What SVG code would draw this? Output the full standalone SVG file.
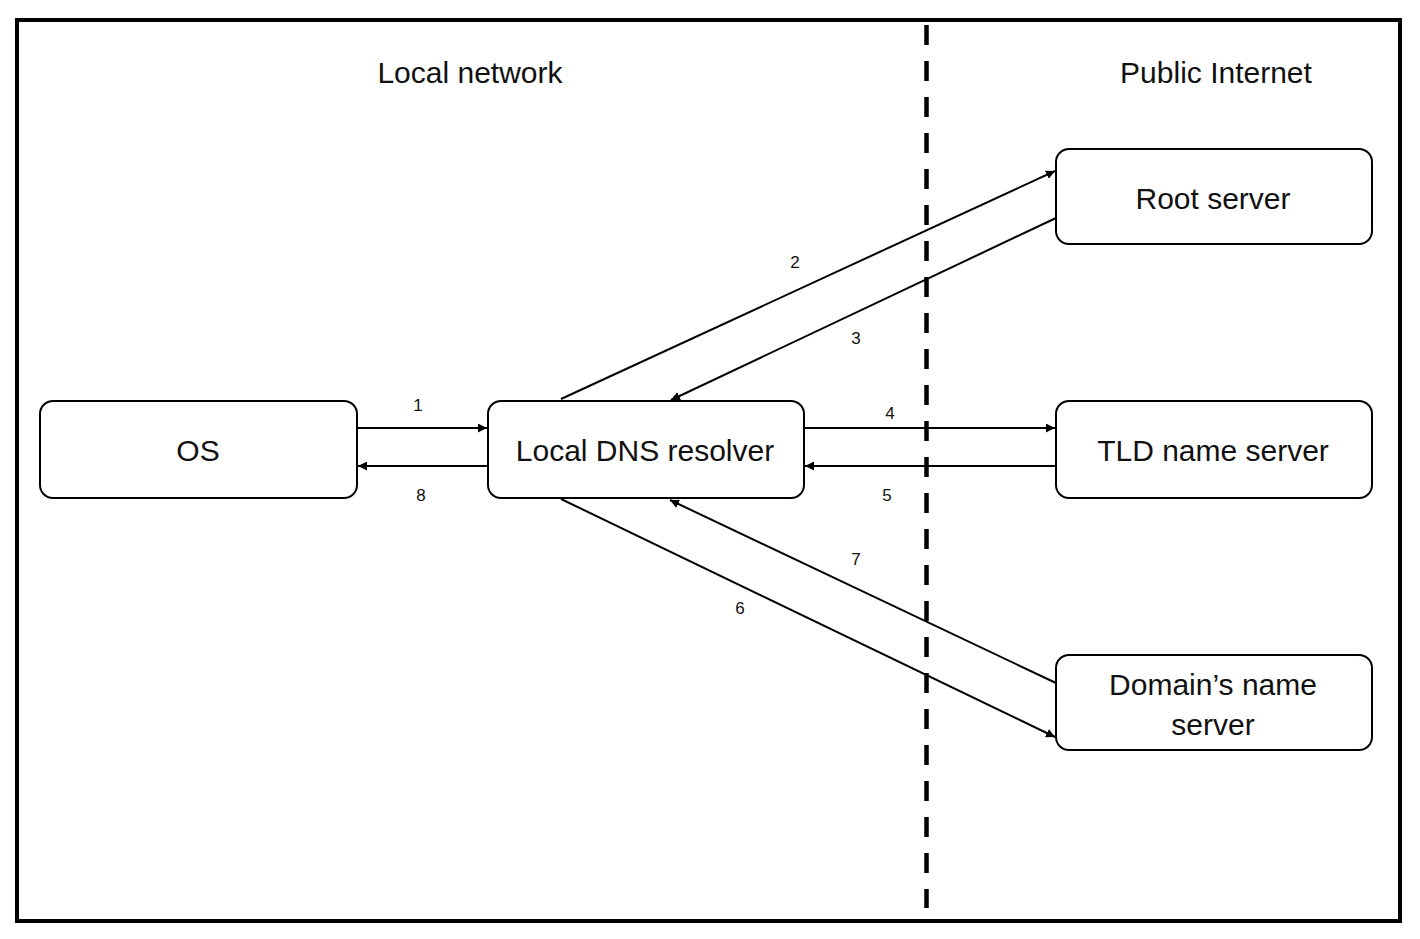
<svg xmlns="http://www.w3.org/2000/svg" width="1420" height="939" viewBox="0 0 1420 939">
<style>
.node rect{fill:#fff;stroke:#000;stroke-width:2}
.lbl{font-family:"Liberation Sans",Arial,sans-serif;font-size:30px;fill:#111;text-anchor:middle}
.num{font-family:"Liberation Sans",Arial,sans-serif;font-size:17px;fill:#111;text-anchor:middle}
.conn line{stroke:#000;stroke-width:2;fill:none;marker-end:url(#ah)}
</style>
<defs>
<marker id="ah" viewBox="0 0 10 10" refX="10" refY="5" markerWidth="4.5" markerHeight="4.5" orient="auto" markerUnits="strokeWidth">
<path d="M0,0 L10,5 L0,10 z" fill="#000"/>
</marker>
</defs>
<rect x="0" y="0" width="1420" height="939" fill="#fff"/>
<rect x="17" y="20" width="1383" height="901" fill="none" stroke="#000" stroke-width="4"/>
<line x1="926.5" y1="25" x2="926.5" y2="908" stroke="#000" stroke-width="4.5" stroke-dasharray="20 16"/>
<text class="lbl" x="470" y="83">Local network</text>
<text class="lbl" x="1216" y="83">Public Internet</text>
<g id="os" class="node"><rect x="40" y="401" width="317" height="97" rx="13"/><text class="lbl" x="198" y="461">OS</text></g>
<g id="resolver" class="node"><rect x="488" y="401" width="316" height="97" rx="13"/><text class="lbl" x="645" y="461">Local DNS resolver</text></g>
<g id="root" class="node"><rect x="1056" y="149" width="316" height="95" rx="13"/><text class="lbl" x="1213" y="209">Root server</text></g>
<g id="tld" class="node"><rect x="1056" y="401" width="316" height="97" rx="13"/><text class="lbl" x="1213" y="461">TLD name server</text></g>
<g id="domain" class="node"><rect x="1056" y="655" width="316" height="95" rx="13"/><text class="lbl" x="1213" y="695">Domain’s name</text><text class="lbl" x="1213" y="735">server</text></g>
<g id="connectors" class="conn">
<line x1="357" y1="428" x2="487" y2="428"/>
<line x1="488" y1="466" x2="358" y2="466"/>
<line x1="561" y1="399" x2="1055" y2="171"/>
<line x1="1056" y1="218" x2="671" y2="400"/>
<line x1="804" y1="428" x2="1055" y2="428"/>
<line x1="1056" y1="466" x2="805" y2="466"/>
<line x1="561" y1="499" x2="1055" y2="737"/>
<line x1="1056" y1="683" x2="670" y2="500"/>
</g>
<g id="labels">
<text class="num" x="418" y="411">1</text>
<text class="num" x="795" y="268">2</text>
<text class="num" x="856" y="344">3</text>
<text class="num" x="890" y="419">4</text>
<text class="num" x="887" y="501">5</text>
<text class="num" x="740" y="614">6</text>
<text class="num" x="856" y="565">7</text>
<text class="num" x="421" y="501">8</text>
</g>
</svg>
